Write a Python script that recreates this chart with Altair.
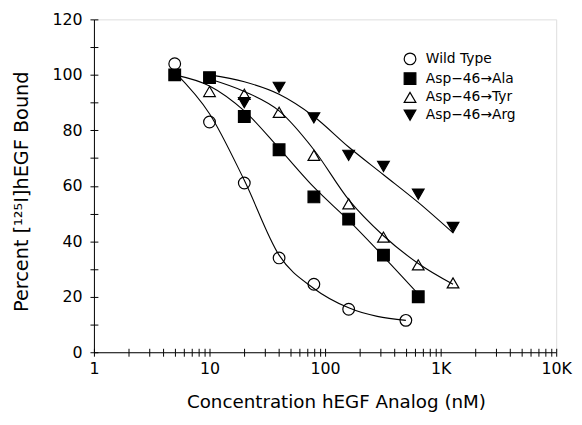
import altair as alt
import pandas as pd

series_names = ["Wild Type", "Asp\u221246\u2192Ala", "Asp\u221246\u2192Tyr", "Asp\u221246\u2192Arg"]
shapes = ["circle", "square", "triangle-up", "triangle-down"]
fills = ["transparent", "black", "transparent", "black"]
strokes = ["black", "black", "black", "black"]

# measured points
wt_x = [5, 10, 20, 40, 80, 160, 500]
wt_y = [104, 83, 61, 34, 24.5, 15.5, 11.5]
ala_x = [5, 10, 20, 40, 80, 160, 320, 640]
ala_y = [100, 99, 85, 73, 56, 48, 35, 20]
tyr_x = [10, 20, 40, 80, 160, 320, 640, 1280]
tyr_y = [94, 93, 86.5, 71, 53.5, 41.5, 31.5, 25]
arg_x = [20, 40, 80, 160, 320, 640, 1280]
arg_y = [90, 95.5, 84.5, 71, 67, 57, 45]

# fitted curves
wt_fit_x = [5, 10, 20, 40, 80, 160, 500]
wt_fit_y = [101, 86, 62, 35, 23, 16, 11.5]
ala_fit_x = [5, 10, 20, 40, 80, 160, 320, 640]
ala_fit_y = [100, 96, 87, 73.5, 59.5, 47.5, 34.5, 21]
tyr_fit_x = [10, 20, 40, 80, 160, 320, 640, 1280]
tyr_fit_y = [98.5, 94, 87, 73, 55, 42, 32, 24.5]
arg_fit_x = [10, 20, 40, 80, 160, 320, 640, 1280]
arg_fit_y = [100, 97.5, 93, 85, 74, 64, 54, 43]

x_ticks = [1, 2, 3, 4, 5, 6, 7, 8, 9,
           10, 20, 30, 40, 50, 60, 70, 80, 90,
           100, 200, 300, 400, 500, 600, 700, 800, 900,
           1000, 2000, 3000, 4000, 5000, 6000, 7000, 8000, 9000, 10000]
y_ticks = [0, 10, 20, 30, 40, 50, 60, 70, 80, 90, 100, 110, 120]

pts_rows = []
for name, xs, ys in zip(series_names, [wt_x, ala_x, tyr_x, arg_x], [wt_y, ala_y, tyr_y, arg_y]):
    for a, b in zip(xs, ys):
        pts_rows.append({"series": name, "conc": a, "pct": b})
pts = pd.DataFrame(pts_rows)

fit_rows = []
for name, xs, ys in zip(series_names, [wt_fit_x, ala_fit_x, tyr_fit_x, arg_fit_x],
                        [wt_fit_y, ala_fit_y, tyr_fit_y, arg_fit_y]):
    for i, (a, b) in enumerate(zip(xs, ys)):
        fit_rows.append({"series": name, "conc": a, "pct": b, "i": i})
fit = pd.DataFrame(fit_rows)

FONT = "DejaVu Sans"
x_label_expr = ("datum.value == 1 ? '1' : datum.value == 10 ? '10' : datum.value == 100 ? '100' : "
                "datum.value == 1000 ? '1K' : datum.value == 10000 ? '10K' : ''")
y_label_expr = "datum.value % 20 == 0 ? datum.label : ''"

xscale = alt.Scale(type="log", domain=[1, 10000], nice=False)
yscale = alt.Scale(domain=[0, 120], nice=False, zero=True)

lines = alt.Chart(fit).mark_line(color="black", strokeWidth=1.1, interpolate="monotone").encode(
    x=alt.X("conc:Q", scale=xscale,
            axis=alt.Axis(orient="bottom", values=x_ticks, labelExpr=x_label_expr, grid=False,
                          tickSize=4, labelPadding=5, labelFontSize=16, labelFont=FONT,
                          labelColor="black", domainColor="black", tickColor="black",
                          title="Concentration hEGF Analog (nM)", titleFont=FONT,
                          titleFontSize=18.5, titleFontWeight="normal", titleColor="black",
                          titleX=245, titleY=50, titleBaseline="middle", labelFlush=False)),
    y=alt.Y("pct:Q", scale=yscale,
            axis=alt.Axis(orient="left", values=y_ticks, labelExpr=y_label_expr, grid=False,
                          tickSize=4, labelPadding=8, labelFontSize=16, labelFont=FONT,
                          labelColor="black", domainColor="black", tickColor="black",
                          title="Percent [\u00b9\u00b2\u2075I]hEGF Bound", titleFont=FONT,
                          titleFontSize=19.5, titleFontWeight="normal", titleColor="black",
                          titleAngle=270, titleX=-73, titleY=174, titleBaseline="middle",
                          titleAlign="center")),
    detail="series:N",
    order="i:Q",
)

legend = alt.Legend(title=None, orient="none", legendX=313, legendY=33,
                    labelFont=FONT, labelFontSize=14, labelColor="black",
                    symbolSize=140, symbolStrokeWidth=1.2, rowPadding=2, labelOffset=9)

points = alt.Chart(pts).mark_point(filled=True, strokeWidth=1.2, opacity=1).encode(
    x=alt.X("conc:Q", scale=xscale,
            axis=alt.Axis(orient="bottom", values=x_ticks, labels=False, domain=False, grid=False,
                          tickSize=4, offset=-4, tickColor="black", title="")),
    y=alt.Y("pct:Q", scale=yscale,
            axis=alt.Axis(orient="left", values=y_ticks, labels=False, domain=False, grid=False,
                          tickSize=4, offset=-4, tickColor="black", title="")),
    shape=alt.Shape("series:N", scale=alt.Scale(domain=series_names, range=shapes), legend=legend),
    fill=alt.Fill("series:N", scale=alt.Scale(domain=series_names, range=fills), legend=legend),
    stroke=alt.Stroke("series:N", scale=alt.Scale(domain=series_names, range=strokes), legend=legend),
    size=alt.value(140),
)

chart = alt.layer(lines, points).resolve_axis(x="independent", y="independent").properties(
    width=468, height=337,
    autosize=alt.AutoSizeParams(type="none"),
    padding={"left": 87, "top": 9, "right": 18, "bottom": 60},
).configure_view(stroke="black", strokeWidth=1).configure(background="white")

chart.save("out.html", embed_options={"renderer": "svg", "actions": False})
